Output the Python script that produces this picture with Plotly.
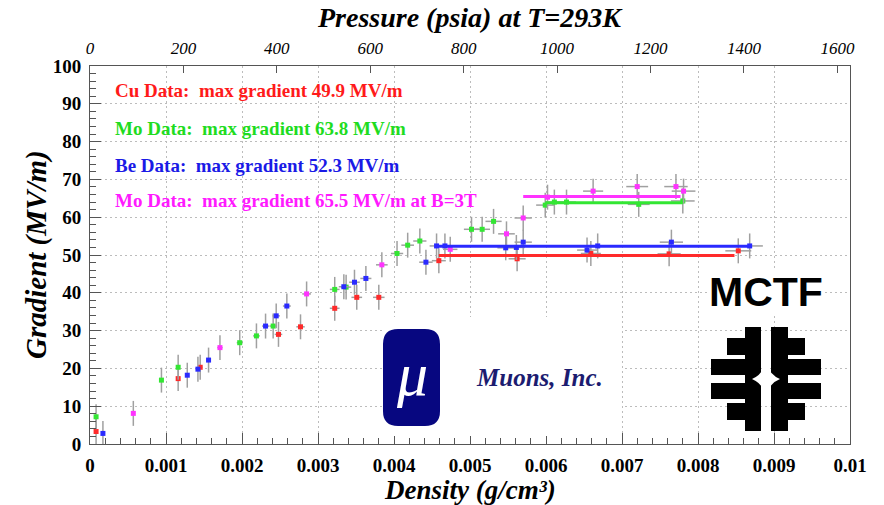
import plotly.graph_objects as go

# ---------------- data ----------------
cu_x = [0.00008, 0.00116, 0.00145, 0.00248, 0.00277, 0.00322, 0.00351, 0.00380,
        0.00459, 0.00562, 0.00659, 0.00762, 0.00853]
cu_y = [3.3, 17.3, 20.3, 29.0, 31.0, 35.9, 38.8, 38.8, 48.5, 49.0, 50.4, 50.3, 51.1]

mo_x = [0.00008, 0.00094, 0.00116, 0.00197, 0.00219, 0.00241, 0.00322, 0.00337,
        0.00404, 0.00418, 0.00434, 0.00502, 0.00516, 0.00531, 0.00599, 0.00611,
        0.00627, 0.00722, 0.00780]
mo_y = [7.2, 16.9, 20.3, 26.8, 28.6, 31.2, 40.9, 41.5, 50.4, 52.6, 53.7, 56.8,
        56.8, 58.9, 63.2, 64.0, 64.0, 63.4, 64.3]

be_x = [0.00017, 0.00128, 0.00142, 0.00156, 0.00231, 0.00245, 0.00259, 0.00334,
        0.00348, 0.00363, 0.00442, 0.00456, 0.00467, 0.00547, 0.00561, 0.00570,
        0.00654, 0.00668, 0.00765, 0.00868]
be_y = [2.8, 18.2, 19.8, 22.2, 31.2, 33.9, 36.5, 41.6, 42.8, 43.8, 48.1, 52.4,
        52.4, 51.9, 52.0, 53.4, 51.3, 52.4, 53.4, 52.4]

mob_x = [0.00057, 0.00171, 0.00285, 0.00384, 0.00474, 0.00548, 0.00570, 0.00602,
         0.00662, 0.00720, 0.00771, 0.00781]
mob_y = [8.1, 25.5, 39.7, 47.4, 51.5, 55.6, 59.8, 65.3, 66.9, 68.1, 68.1, 66.9]

# max-gradient levels and the density span of each level line
cu_max, cu_span = 49.9, [0.00459, 0.00848]
mo_max, mo_span = 63.8, [0.00599, 0.00780]
be_max, be_span = 52.3, [0.00456, 0.00866]
mob_max, mob_span = 65.5, [0.00570, 0.00777]

y_err = 3.3          # MV/m, vertical error half-width
x_err_pct = 2        # percent, horizontal error

density_ticks = [0, 0.001, 0.002, 0.003, 0.004, 0.005, 0.006, 0.007, 0.008, 0.009, 0.01]
density_labels = ["0", "0.001", "0.002", "0.003", "0.004", "0.005", "0.006",
                  "0.007", "0.008", "0.009", "0.01"]
pressure_ticks = [0, 200, 400, 600, 800, 1000, 1200, 1400, 1600]
pressure_max = 1627

legend_lines = [
    ("Cu Data:  max gradient 49.9 MV/m", "#ff1a1a"),
    ("Mo Data:  max gradient 63.8 MV/m", "#1fdc1f"),
    ("Be Data:  max gradient 52.3 MV/m", "#1a1ae6"),
    ("Mo Data:  max gradient 65.5 MV/m at B=3T", "#ff1aff"),
]

# ---------------- styles ----------------
SERIF = "Liberation Serif, Times New Roman, serif"
SANS = "Liberation Sans, Arial, sans-serif"
ERR_COL = "#a0a0a0"
AX_COL = "#555555"
GRID_COL = "#bcbcbc"
colors = {"cu": "#ff2a2a", "mo": "#33e633", "be": "#2a2aff", "mob": "#ff33ff"}

W, H = 884, 505
ML, MR, MT, MB = 90, 34, 66, 61
PW, PH = W - ML - MR, H - MT - MB


def pp(px, py):
    """pixel position -> paper coords (for decorations only)"""
    return (px - ML) / PW, (MT + PH - py) / PH


fig = go.Figure()

for xs, ys, key in [(cu_x, cu_y, "cu"), (mo_x, mo_y, "mo"), (be_x, be_y, "be"), (mob_x, mob_y, "mob")]:
    fig.add_trace(go.Scatter(
        x=xs, y=ys, mode="markers",
        marker=dict(symbol="square", size=5, color=colors[key], line=dict(width=0)),
        error_y=dict(type="constant", value=y_err, color=ERR_COL, thickness=1.5, width=0),
        error_x=dict(type="percent", value=x_err_pct, color=ERR_COL, thickness=1.5, width=0),
        showlegend=False, hoverinfo="x+y"))

for span, level, key in [(cu_span, cu_max, "cu"), (be_span, be_max, "be"),
                         (mo_span, mo_max, "mo"), (mob_span, mob_max, "mob")]:
    fig.add_trace(go.Scatter(
        x=span, y=[level, level], mode="lines",
        line=dict(color=colors[key], width=3), showlegend=False, hoverinfo="skip"))

# helper trace so the top pressure axis is drawn
fig.add_trace(go.Scatter(x=pressure_ticks, y=[None] * len(pressure_ticks), xaxis="x2",
                         mode="markers", showlegend=False, hoverinfo="skip"))

axis_common = dict(
    showline=True, linecolor=AX_COL, linewidth=1, mirror=True,
    ticks="inside", tickcolor=AX_COL, ticklen=11, tickwidth=1,
    showgrid=True, gridcolor=GRID_COL, gridwidth=1, griddash="2px,3px",
    zeroline=False, automargin=False,
    tickfont=dict(family=SERIF, size=19, color="black", weight="bold"),
)

fig.update_layout(
    template="none",
    width=W, height=H,
    margin=dict(l=ML, r=MR, t=MT, b=MB, autoexpand=False),
    paper_bgcolor="white", plot_bgcolor="white",
    showlegend=False,
    xaxis=dict(range=[0, 0.01], tickvals=density_ticks, ticktext=density_labels,
               minor=dict(dtick=0.0002, ticks="inside", ticklen=6, tickcolor=AX_COL, showgrid=False),
               ticklabelstandoff=4, **axis_common),
    yaxis=dict(range=[0, 100], dtick=10,
               minor=dict(dtick=2, ticks="inside", ticklen=6, tickcolor=AX_COL, showgrid=False),
               ticklabelstandoff=4, **axis_common),
    xaxis2=dict(overlaying="x", side="top", range=[0, pressure_max], tickvals=pressure_ticks,
                ticks="inside", ticklen=7, tickcolor=AX_COL, showgrid=False, showline=False,
                zeroline=False, ticklabelstandoff=8, automargin=False,
                tickfont=dict(family=SERIF, size=17, color="black", style="italic")),
)

annotations = []
# axis titles
ax_title_font = dict(family=SERIF, size=28, color="black", weight="bold", style="italic")
tx, ty = pp(470, 17)
annotations.append(dict(text="Pressure (psia) at T=293K", xref="paper", yref="paper", x=tx, y=ty,
                        showarrow=False, xanchor="center", yanchor="middle", font=ax_title_font))
tx, ty = pp(470, 490)
annotations.append(dict(text="Density (g/cm³)", xref="paper", yref="paper", x=tx, y=ty,
                        showarrow=False, xanchor="center", yanchor="middle",
                        font=dict(ax_title_font, size=27)))
tx, ty = pp(36, 255)
annotations.append(dict(text="Gradient (MV/m)", xref="paper", yref="paper", x=tx, y=ty, textangle=-90,
                        showarrow=False, xanchor="center", yanchor="middle",
                        font=dict(ax_title_font, size=29)))

# legend-like colored text
for (txt, col), py in zip(legend_lines, [90.5, 128, 165, 201]):
    tx, ty = pp(113, py)
    annotations.append(dict(text=txt, xref="paper", yref="paper", x=tx, y=ty, showarrow=False,
                            xanchor="left", yanchor="middle",
                            font=dict(family=SERIF, size=19, color=col, weight="bold")))

shapes = []
# Muons, Inc. logo: white panel + navy pill
x0, y0 = pp(383, 436)
x1, y1 = pp(622, 317)
shapes.append(dict(type="rect", xref="paper", yref="paper", x0=x0, y0=y0, x1=x1, y1=y1,
                   fillcolor="white", line=dict(width=0), layer="above"))
x0, y0 = pp(383, 426)
x1, y1 = pp(440, 329)
rx, ry = 15 / PW, 15 / PH
pill = (f"M {x0+rx},{y1} L {x1-rx},{y1} Q {x1},{y1} {x1},{y1-ry} L {x1},{y0+ry} "
        f"Q {x1},{y0} {x1-rx},{y0} L {x0+rx},{y0} Q {x0},{y0} {x0},{y0+ry} "
        f"L {x0},{y1-ry} Q {x0},{y1} {x0+rx},{y1} Z")
shapes.append(dict(type="path", xref="paper", yref="paper", path=pill,
                   fillcolor="#070780", line=dict(width=0), layer="above"))
tx, ty = pp(411.5, 374)
annotations.append(dict(text="μ", xref="paper", yref="paper", x=tx, y=ty, showarrow=False,
                        xanchor="center", yanchor="middle",
                        font=dict(family=SERIF, size=62, color="white", style="italic")))
tx, ty = pp(539, 377)
annotations.append(dict(text="Muons, Inc.", xref="paper", yref="paper", x=tx, y=ty, showarrow=False,
                        xanchor="center", yanchor="middle",
                        font=dict(family=SERIF, size=25, color="#1c1c70", weight="bold", style="italic")))

# MCTF text
tx, ty = pp(766, 292)
annotations.append(dict(text="MCTF", xref="paper", yref="paper", x=tx, y=ty, showarrow=False,
                        xanchor="center", yanchor="middle", bgcolor="white", borderpad=0,
                        font=dict(family=SANS, size=41, color="black", weight="bold")))


# Fermilab logo made of black blocks and a white concave diamond
def block(pxa, pxb, pya, pyb, color="black"):
    a0, b0 = pp(pxa, pyb)
    a1, b1 = pp(pxb, pya)
    shapes.append(dict(type="rect", xref="paper", yref="paper", x0=a0, y0=b0, x1=a1, y1=b1,
                       fillcolor=color, line=dict(width=0), layer="above"))


cx, cy = 766, 379
block(745, 761, 327, 431)
block(771, 788, 327, 431)
for ya, yb, half in [(338, 355, 39), (359, 375, 55), (383, 399, 55), (403, 420, 39)]:
    block(cx - half, 761, ya, yb)
    block(771, cx + half, ya, yb)

pts = {"T": pp(cx, cy - 16), "R": pp(cx + 14, cy), "B": pp(cx, cy + 16), "L": pp(cx - 14, cy)}
ctr = {"TR": pp(cx + 4, cy - 4), "RB": pp(cx + 4, cy + 4), "BL": pp(cx - 4, cy + 4), "LT": pp(cx - 4, cy - 4)}
dpath = (f"M {pts['T'][0]},{pts['T'][1]} Q {ctr['TR'][0]},{ctr['TR'][1]} {pts['R'][0]},{pts['R'][1]} "
         f"Q {ctr['RB'][0]},{ctr['RB'][1]} {pts['B'][0]},{pts['B'][1]} "
         f"Q {ctr['BL'][0]},{ctr['BL'][1]} {pts['L'][0]},{pts['L'][1]} "
         f"Q {ctr['LT'][0]},{ctr['LT'][1]} {pts['T'][0]},{pts['T'][1]} Z")
shapes.append(dict(type="path", xref="paper", yref="paper", path=dpath,
                   fillcolor="white", line=dict(width=0), layer="above"))

fig.update_layout(annotations=annotations, shapes=shapes)

fig.write_html(
    "out.html",
    config={"displayModeBar": False},
    post_script="document.body.style.margin='0px';document.body.style.overflow='hidden';",
)
